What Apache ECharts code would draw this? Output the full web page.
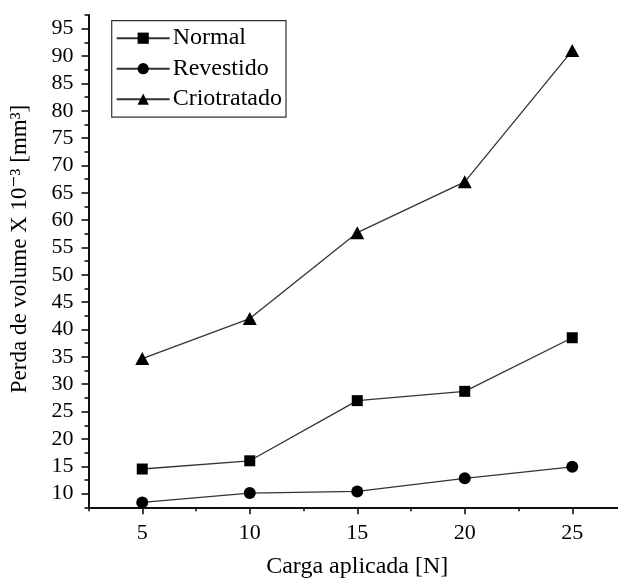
<!DOCTYPE html>
<html>
<head>
<meta charset="utf-8">
<script src="https://cdn.jsdelivr.net/npm/echarts@6/dist/echarts.min.js"></script>
<style>html,body{margin:0;padding:0;background:#fff;}#c{width:618px;height:580px;}</style>
</head>
<body>
<div id="c"></div>
<script>
const cargas = [5, 10, 15, 20, 25];
const normal = [14.5, 16.0, 27.0, 28.7, 38.5];
const revestido = [8.4, 10.1, 10.4, 12.8, 14.9];
const criotratado = [34.7, 42.0, 57.7, 67.0, 91.0];
const xTickLabels = [5, 10, 15, 20, 25];
const xMinorTicks = [2.5, 7.5, 12.5, 17.5, 22.5, 27.5];
const yTickLabels = [10, 15, 20, 25, 30, 35, 40, 45, 50, 55, 60, 65, 70, 75, 80, 85, 90, 95];
const yMinorTicks = [7.5, 12.5, 17.5, 22.5, 27.5, 32.5, 37.5, 42.5, 47.5, 52.5, 57.5, 62.5, 67.5, 72.5, 77.5, 82.5, 87.5, 92.5, 97.5];
const seriesNames = ['Normal', 'Revestido', 'Criotratado'];
const xTitle = 'Carga aplicada [N]';
const yTitle = 'Perda de volume X 10\u207B\u00B3 [mm\u00B3]';

const FONT = "'Liberation Serif', 'DejaVu Serif', serif";
const pairs = arr => cargas.map((x, i) => [x, arr[i]]);

const chart = echarts.init(document.getElementById('c'), null, {renderer: 'canvas'});
const axisLineStyle = {color: '#111', width: 2};
const baseX = {
  type: 'value', min: 2.5, max: 27.5, interval: 2.5, position: 'bottom',
  splitLine: {show: false}, gridIndex: 0
};
const baseY = {
  type: 'value', min: 7.5, max: 97.5, interval: 2.5, position: 'left',
  splitLine: {show: false}, gridIndex: 0
};
chart.setOption({
  animation: false,
  backgroundColor: '#fff',
  textStyle: {fontFamily: FONT, color: '#000'},
  grid: {left: 88.5, top: 15, right: -8, bottom: 72.7, containLabel: false, outerBoundsMode: 'none'},
  xAxis: [
    Object.assign({}, baseX, {
      axisLine: {show: true, onZero: false, lineStyle: axisLineStyle},
      axisTick: {show: true, length: 7, customValues: xTickLabels, lineStyle: {color: '#111', width: 1.6}},
      axisLabel: {show: true, customValues: xTickLabels, fontSize: 22, fontFamily: FONT, color: '#000', margin: 15},
      name: xTitle, nameLocation: 'middle', nameGap: 47,
      nameTextStyle: {fontSize: 24, fontFamily: FONT, color: '#000'}
    }),
    Object.assign({}, baseX, {
      axisLine: {show: false, onZero: false},
      axisTick: {show: true, length: 4, customValues: xMinorTicks, lineStyle: {color: '#111', width: 1.6}},
      axisLabel: {show: false}
    })
  ],
  yAxis: [
    Object.assign({}, baseY, {
      axisLine: {show: true, onZero: false, lineStyle: axisLineStyle},
      axisTick: {show: true, length: 7, customValues: yTickLabels, lineStyle: {color: '#111', width: 1.6}},
      axisLabel: {show: true, customValues: yTickLabels, fontSize: 22, fontFamily: FONT, color: '#000', margin: 15}
    }),
    Object.assign({}, baseY, {
      axisLine: {show: false, onZero: false},
      axisTick: {show: true, length: 4, customValues: yMinorTicks, lineStyle: {color: '#111', width: 1.6}},
      axisLabel: {show: false}
    })
  ],
  legend: {
    orient: 'vertical', left: 111.7, top: 20.7,
    padding: [5.5, 4, 6, 4],
    borderColor: '#333', borderWidth: 1.2, backgroundColor: '#fff',
    itemWidth: 53, itemHeight: 14, itemGap: 6.5,
    textStyle: {fontSize: 24, fontFamily: FONT, color: '#000', lineHeight: 24, padding: [0, 0, 0, -2]},
    data: seriesNames
  },
  graphic: [{
    type: 'text', x: 20, y: 249, rotation: Math.PI / 2,
    style: {text: yTitle, font: '23px ' + FONT, fill: '#000', align: 'center', verticalAlign: 'middle'}
  }],
  series: [
    {name: seriesNames[0], type: 'line', data: pairs(normal), symbol: 'rect', symbolSize: 11,
     lineStyle: {color: '#333', width: 1.3}, itemStyle: {color: '#000'}, z: 3},
    {name: seriesNames[1], type: 'line', data: pairs(revestido), symbol: 'circle', symbolSize: 12,
     lineStyle: {color: '#333', width: 1.3}, itemStyle: {color: '#000'}, z: 3},
    {name: seriesNames[2], type: 'line', data: pairs(criotratado), symbol: 'triangle', symbolSize: [14, 13],
     lineStyle: {color: '#333', width: 1.3}, itemStyle: {color: '#000'}, z: 3}
  ]
});
</script>
</body>
</html>
